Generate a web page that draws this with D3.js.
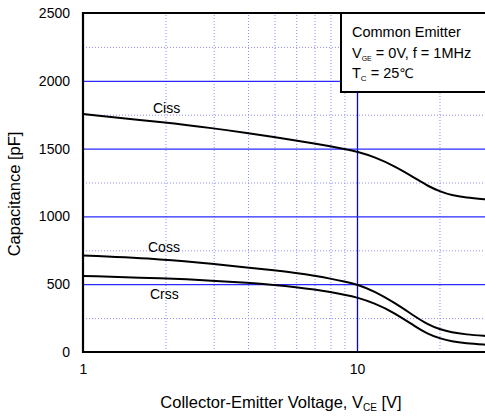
<!DOCTYPE html>
<html>
<head>
<meta charset="utf-8">
<script src="https://cdn.jsdelivr.net/npm/d3@7/dist/d3.min.js"></script>
<style>
  body { margin: 0; background: #fff; }
  svg { display: block; font-family: Arial, "Liberation Sans", sans-serif; }
  .grid path { display: none; }
  .grid line { stroke: #8c8cff; stroke-dasharray: 1,2; stroke-width: 1; }
  .major path { display: none; }
  .major line { stroke: #2a2aff; stroke-width: 1.2; }
  .lbl path, .lbl line { display: none; }
  .lbl text { font-size: 14px; fill: #000; font-family: Arial, "Liberation Sans", sans-serif; }
</style>
</head>
<body>
<svg id="chart" width="485" height="417"></svg>
<script>
// values
var vce  = [1, 2, 3, 4, 5, 6, 7, 8, 9, 10, 11.6, 13.8, 16.3, 18.2, 20, 22.2, 24.8, 30];
var ciss = [1755, 1692, 1650, 1614, 1584, 1560, 1538, 1517, 1497, 1478, 1438, 1368, 1282, 1222, 1186, 1155, 1139, 1124];
var coss = [712, 684, 649, 622, 602, 582, 562, 541, 520, 499, 447, 360, 261, 201, 168, 143, 130, 117];
var crss = [561, 543, 526, 510, 494, 478, 461, 442, 422, 403, 360, 286, 188, 131, 101, 77, 64, 53];

var xTicks = [1, 10];
var xMinor = [2, 3, 4, 5, 6, 7, 8, 9, 20, 30];
var yTicks = [0, 500, 1000, 1500, 2000, 2500];
var yMinor = [250, 750, 1250, 1750, 2250];
var seriesNames = ["Ciss", "Coss", "Crss"];

var plotLeft = 83, plotTop = 13, plotBottom = 352;
var x = d3.scaleLog().domain([1, 30]).range([plotLeft, plotLeft + 274 * Math.log10(30)]);
var y = d3.scaleLinear().domain([0, 2500]).range([plotBottom, plotTop]);
var W = x.range()[1] - plotLeft, H = plotBottom - plotTop;

var svg = d3.select("#chart");

// dotted minor grid
svg.append("g").attr("class", "grid")
    .attr("transform", "translate(0," + plotBottom + ")")
    .call(d3.axisBottom(x).tickValues(xMinor).tickSize(-H).tickFormat(""));
svg.append("g").attr("class", "grid")
    .attr("transform", "translate(" + plotLeft + ",0)")
    .call(d3.axisLeft(y).tickValues(yMinor).tickSize(-W).tickFormat(""));

// solid major grid
svg.append("g").attr("class", "major")
    .attr("transform", "translate(0," + plotBottom + ")")
    .call(d3.axisBottom(x).tickValues([10]).tickSize(-H).tickFormat(""))
    .selectAll("line").style("stroke", "#0000ff").style("stroke-width", 1.3);
svg.append("g").attr("class", "major")
    .attr("transform", "translate(" + plotLeft + ",0)")
    .call(d3.axisLeft(y).tickValues([500, 1000, 1500, 2000]).tickSize(-W).tickFormat(""));

// legend box
svg.append("rect")
    .attr("x", 341).attr("y", plotTop)
    .attr("width", 200).attr("height", 92 - plotTop)
    .attr("fill", "#fff").attr("stroke", "#000").attr("stroke-width", 2);

var leg = svg.append("g").attr("font-size", "14.5px");
leg.append("text").attr("x", 352).attr("y", 37).text("Common Emitter");
var t2 = leg.append("text").attr("x", 352).attr("y", 58);
t2.append("tspan").text("V");
t2.append("tspan").attr("font-size", "7px").attr("dy", 3).text("GE");
t2.append("tspan").attr("dy", -3).text(" = 0V, f = 1MHz");
var t3 = leg.append("text").attr("x", 352).attr("y", 78);
t3.append("tspan").text("T");
t3.append("tspan").attr("font-size", "8px").attr("dy", 3).text("C");
t3.append("tspan").attr("dy", -3).text(" = 25");
t3.append("tspan").attr("font-family", "DejaVu Sans").attr("font-size", "13px").attr("letter-spacing", "-1px").text("\u2103");

// frame
svg.append("path")
    .attr("d", "M" + (x.range()[1] + 2) + "," + plotTop + "H" + plotLeft + "V" + plotBottom + "H" + (x.range()[1] + 2))
    .attr("fill", "none").attr("stroke", "#000").attr("stroke-width", 2.2);

// curves
var line = d3.line()
    .x(function(d) { return x(d[0]); })
    .y(function(d) { return y(d[1]); })
    .curve(d3.curveBasis);

[ciss, coss, crss].forEach(function(vals) {
    svg.append("path")
        .datum(vce.map(function(v, i) { return [v, vals[i]]; }))
        .attr("d", line)
        .attr("fill", "none").attr("stroke", "#000").attr("stroke-width", 2);
});

// curve labels
var labelPos = [[153, 113], [148, 252], [150, 299]];
seriesNames.forEach(function(n, i) {
    svg.append("text").attr("x", labelPos[i][0]).attr("y", labelPos[i][1])
        .attr("font-size", "14px").text(n);
});

// tick labels
svg.append("g").attr("class", "lbl")
    .attr("transform", "translate(" + (plotLeft - 4) + ",0)")
    .call(d3.axisLeft(y).tickValues(yTicks).tickSize(0).tickPadding(9).tickFormat(d3.format("d")));
svg.append("g").attr("class", "lbl")
    .attr("transform", "translate(0," + (plotBottom + 8) + ")")
    .call(d3.axisBottom(x).tickValues(xTicks).tickSize(0).tickPadding(4).tickFormat(d3.format("d")));

// axis titles
var xt = svg.append("text").attr("x", 281).attr("y", 408)
    .attr("text-anchor", "middle").attr("font-size", "16.5px");
xt.append("tspan").text("Collector-Emitter Voltage, V");
xt.append("tspan").attr("font-size", "10px").attr("dy", 3).text("CE");
xt.append("tspan").attr("dy", -3).text(" [V]");

svg.append("text")
    .attr("transform", "translate(20,194) rotate(-90)")
    .attr("text-anchor", "middle").attr("font-size", "16.5px")
    .text("Capacitance [pF]");
</script>
</body>
</html>
